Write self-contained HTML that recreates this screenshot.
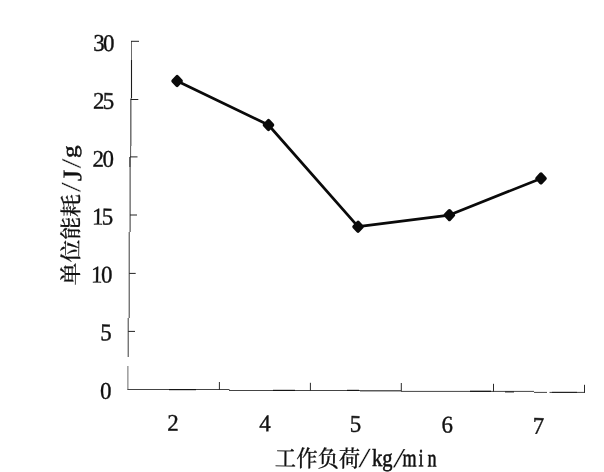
<!DOCTYPE html>
<html lang="zh">
<head>
<meta charset="utf-8">
<title>单位能耗 - 工作负荷</title>
<style>
html,body{margin:0;padding:0;background:#fff;}
body{width:604px;height:472px;overflow:hidden;position:relative;}
svg{position:absolute;left:0;top:0;display:block;}
.num{font-family:"Liberation Serif","Noto Serif CJK SC",serif;font-size:24px;fill:#111;stroke:#111;stroke-width:0.4;}
.cjk{font-family:"Noto Serif CJK SC","Liberation Serif",serif;font-weight:500;fill:#111;stroke:#111;stroke-width:0.2;}
.lat{font-family:"Liberation Serif","Noto Serif CJK SC",serif;fill:#111;}
</style>
</head>
<body>
<svg width="604" height="472" viewBox="0 0 604 472">
<rect width="604" height="472" fill="#ffffff"/>

<g id="axes" fill="none" stroke-width="1">
  <path stroke="#6a6a6a" stroke-width="1" d="M131.5 41V60"/>
  <path stroke="#1c1c1c" stroke-width="1.1" d="M131.5 60V98.5"/>
  <path stroke="#6e6e6e" stroke-width="1.5" d="M130.8 98.5V146"/>
  <path stroke="#555" stroke-width="1" d="M130.6 146V157"/>
  <path stroke="#111" stroke-width="1.3" d="M130 157V167"/>
  <path stroke="#333" stroke-width="1" d="M130.1 167V232"/>
  <path stroke="#3a3a3a" stroke-width="1" d="M129.2 232V318"/>
  <path stroke="#3a3a3a" stroke-width="1" d="M128.2 318V357"/>
  <path stroke="#6a6a6a" stroke-width="1" d="M127.9 366V389.5"/>
  <path stroke="#444" stroke-width="1" d="M127.4 389.5H229.5"/>
  <path stroke="#444" stroke-width="1" d="M229 390.5H360"/>
  <path stroke="#5a5a5a" stroke-width="1.4" d="M360 390.8H401"/>
  <path stroke="#444" stroke-width="1" d="M401 391.4H534"/>
  <path stroke="#444" stroke-width="1" d="M534 392.4H547"/>
  <path stroke="#444" stroke-width="1" d="M549.5 392.4H585"/>
  <path stroke="#151515" stroke-width="1.2" d="M169 389.6H196"/>
  <path stroke="#151515" stroke-width="1.2" d="M273 390.4H295"/>
  <path stroke="#151515" stroke-width="1.2" d="M347 390.4H359"/>
  <path stroke="#151515" stroke-width="1.2" d="M470 391.3H491"/>
  <path stroke="#222" stroke-width="1.1" d="M505 391.9H514"/>
  <path stroke="#222" stroke-width="1.1" d="M552 392.4H577"/>
  <path stroke="#222" d="M131 41.3h8 M130.8 99.5h7.5 M130 156.9h7.5 M130 215h7 M129.2 273.4h6.5 M128.2 331.4h6.8"/>
  <path stroke="#2a2a2a" d="M219.4 390v-8 M310.4 390.8v-8 M401.3 391v-8 M493.5 391.8v-8 M584.5 392.8v-8"/>
</g>
<g transform="rotate(0.5 302 236)">
<g id="series">
  <polyline points="175.75,82.1 267.53,125.3 357.97,226.21 449.21,213.81 540.49,176.32" fill="none" stroke="#0a0a0a" stroke-width="2.7" stroke-linejoin="round" stroke-linecap="round"/>
  <g fill="#0a0a0a" stroke="#0a0a0a" stroke-width="3.6" stroke-linejoin="round">
    <path d="M175.75 77.8 l4 4.3 l-4 4.3 l-4 -4.3 z"/>
    <path d="M267.53 121 l4 4.3 l-4 4.3 l-4 -4.3 z"/>
    <path d="M357.97 221.91 l4 4.3 l-4 4.3 l-4 -4.3 z"/>
    <path d="M449.21 209.51 l4 4.3 l-4 4.3 l-4 -4.3 z"/>
    <path d="M540.49 172.02 l4 4.3 l-4 4.3 l-4 -4.3 z"/>
  </g>
</g>
<g class="num" text-anchor="end" letter-spacing="-1.68">
  <text transform="translate(111.29 52.66) scale(0.95 1)">30</text>
  <text transform="translate(111.5 110.46) scale(0.95 1)">25</text>
  <text transform="translate(111.6 168.56) scale(0.95 1)">20</text>
  <text transform="translate(111.41 226.26) scale(0.95 1)">15</text>
  <text transform="translate(111.11 284.27) scale(0.95 1)">10</text>
  <text transform="translate(111.02 342.07) scale(0.95 1)">5</text>
  <text transform="translate(111.23 400.47) scale(0.95 1)">0</text>
</g>
<g class="num" text-anchor="middle">
  <text transform="translate(174.7 431.82) scale(0.95 1)">2</text>
  <text transform="translate(266.71 431.72) scale(0.95 1)">4</text>
  <text transform="translate(357.21 431.23) scale(0.95 1)">5</text>
  <text transform="translate(448.91 431.23) scale(0.95 1)">6</text>
  <text transform="translate(540.22 431.63) scale(0.95 1)">7</text>
</g>
<g transform="translate(277.01 466.53)">
  <text class="cjk" font-size="23" text-anchor="middle" transform="scale(0.926 1)" x="11.34 34.34 57.34 80.35" y="0">工作负荷</text>
  <text class="lat" font-size="28" stroke="#fff" stroke-width="0.25" text-anchor="middle" transform="translate(0 0) scale(1.6 1)" x="56" y="0">/</text>
  <text class="lat" font-size="24.5" stroke="#111" stroke-width="0.6" text-anchor="middle" transform="translate(0 -1.2) scale(0.84 1)" x="121.49 133.93" y="0">kg</text>
  <text class="lat" font-size="28" stroke="#fff" stroke-width="0.25" text-anchor="middle" transform="translate(0 0) scale(1.6 1)" x="77.47" y="0">/</text>
  <text class="lat" font-size="25" stroke="#111" stroke-width="0.6" text-anchor="middle" transform="translate(0 -1.2) scale(0.72 1)" x="186.94 202.71 218.19" y="0">min</text>
</g>
<g transform="translate(78.64 287.25) rotate(-90)">
  <text class="cjk" font-size="23" text-anchor="middle" transform="scale(1 0.95)" x="11.4 34.2 57 79.8" y="0">单位能耗</text>
  <text class="lat" font-size="28" stroke="#fff" stroke-width="0.25" text-anchor="middle" transform="translate(0 1.2) scale(1.25 1)" x="78.4" y="0">/</text>
  <text class="lat" font-size="27" stroke="#111" stroke-width="0.2" text-anchor="middle" transform="translate(0 2.2) scale(1.1 1)" x="99.91" y="0">J</text>
  <text class="lat" font-size="28" stroke="#fff" stroke-width="0.25" text-anchor="middle" transform="translate(0 1.2) scale(1.25 1)" x="97.44" y="0">/</text>
  <text class="lat" font-size="21" stroke="#111" stroke-width="0.5" text-anchor="middle" transform="translate(0 -2.6) scale(1.2 1)" x="111.42" y="0">g</text>
</g>
</g>
</svg>
</body>
</html>
